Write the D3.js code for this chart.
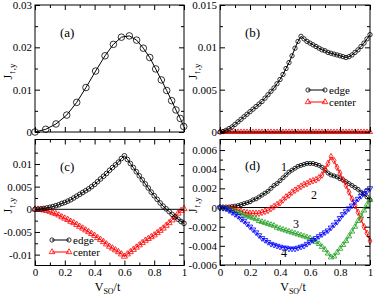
<!DOCTYPE html>
<html>
<head>
<meta charset="utf-8">
<script src="https://cdn.jsdelivr.net/npm/d3@7"></script>
<style>
  body { margin: 0; background: #fff; }
  svg { display: block; }
  text { font-family: "Liberation Serif", "Times New Roman", serif; }
</style>
</head>
<body>
<div id="chart"></div>
<script>
// V_SO/t grid used by panels (b)-(d)
var vso = [0, 0.02, 0.04, 0.06, 0.08, 0.10, 0.12, 0.14, 0.16, 0.18, 0.20, 0.22, 0.24, 0.26, 0.28, 0.30,
    0.32, 0.34, 0.36, 0.38, 0.40, 0.42, 0.44, 0.46, 0.48, 0.50, 0.52, 0.54, 0.56, 0.58, 0.60, 0.62, 0.64,
    0.66, 0.68, 0.70, 0.72, 0.74, 0.76, 0.78, 0.80, 0.82, 0.84, 0.86, 0.88, 0.90, 0.92, 0.94, 0.96, 0.98, 1.00]

// panel (a)
var aX = [0, 0.072, 0.141, 0.213, 0.28, 0.342, 0.407, 0.47, 0.526, 0.58, 0.633, 0.682, 0.727, 0.77,
    0.81, 0.848, 0.884, 0.917, 0.946, 0.975, 0.998]
var aY = [0, 0.00064, 0.0019, 0.0040, 0.0070, 0.0105, 0.0144, 0.0180, 0.0207, 0.0224, 0.0227, 0.0217,
    0.0198, 0.0176, 0.0149, 0.0123, 0.0098, 0.0074, 0.0052, 0.0032, 0.0013]

// panel (b)
var bEdge = [0, 0.00005, 0.0002, 0.0004, 0.0006, 0.0009, 0.0012, 0.0015, 0.0018, 0.0021, 0.0024, 0.0027,
    0.0030, 0.0033, 0.0036, 0.0040, 0.0044, 0.0048, 0.0052, 0.0057, 0.0062, 0.0068, 0.0075, 0.0082, 0.0090,
    0.0099, 0.0107, 0.0113, 0.0110, 0.0107, 0.0105, 0.0103, 0.0101, 0.0099, 0.0097, 0.0096, 0.0094, 0.0093,
    0.0092, 0.0091, 0.0090, 0.0089, 0.0088, 0.0089, 0.0091, 0.0094, 0.0097, 0.0101, 0.0105, 0.0110, 0.0115]
var bCenter = [0, 0, 0, 0, 0, 0, 0, 0, 0, 0, 0, 0, 0, 0, 0, 0, 0, 0, 0, 0, 0, 0, 0, 0, 0, 0,
    0, 0, 0, 0, 0, 0, 0, 0, 0, 0, 0, 0, 0, 0, 0, 0, 0, 0, 0, 0, 0, 0, 0, 0, 0]

// panel (c)
var cEdge = [0, 0.00002, 0.00008, 0.00018, 0.0003, 0.00045, 0.0006, 0.0008, 0.001, 0.0013, 0.0015, 0.0018,
    0.0021, 0.0025, 0.0029, 0.0033, 0.0037, 0.0041, 0.0045, 0.0050, 0.0055, 0.0061, 0.0067, 0.0073, 0.0079,
    0.0086, 0.0092, 0.0098, 0.0104, 0.0112, 0.0118, 0.0110, 0.0101, 0.0092, 0.0083, 0.0074, 0.0065, 0.0056,
    0.0047, 0.0038, 0.0030, 0.0022, 0.0014, 0.0007, 0.0001, -0.0005, -0.0011, -0.0017, -0.0022, -0.0027, -0.0031]
var cCenter = [0, -0.00002, -0.00008, -0.0002, -0.0003, -0.0005, -0.0008, -0.001, -0.0013, -0.0017, -0.002,
    -0.0023, -0.0027, -0.003, -0.0034, -0.0038, -0.0042, -0.0046, -0.005, -0.0054, -0.0058, -0.0063, -0.0067,
    -0.0072, -0.0077, -0.0082, -0.0086, -0.009, -0.0094, -0.0099, -0.0104, -0.0099, -0.0094, -0.0089, -0.0084,
    -0.0079, -0.0074, -0.0069, -0.0065, -0.0061, -0.0057, -0.0052, -0.0047, -0.0042, -0.0036, -0.003, -0.0024,
    -0.0017, -0.0009, -0.0003, 0.0001]

// panel (d)
var d1 = [0, 0.00001, 0.00003, 0.00006, 0.0001, 0.00015, 0.0002, 0.0003, 0.0004, 0.0005, 0.0006, 0.0008,
    0.0009, 0.0011, 0.0013, 0.0015, 0.0017, 0.0020, 0.0023, 0.0025, 0.0028, 0.0031, 0.0034, 0.0037, 0.0039,
    0.0041, 0.0043, 0.0044, 0.0045, 0.0046, 0.0046, 0.0046, 0.0045, 0.0044, 0.0042, 0.0039, 0.0036, 0.0034,
    0.0033, 0.0032, 0.0030, 0.0029, 0.0027, 0.0025, 0.0023, 0.0021, 0.0019, 0.0016, 0.0014, 0.0011, 0.0008]
var d2 = [0, -0.00002, -0.00005, -0.0001, -0.00015, -0.0002, -0.0003, -0.0004, -0.0005, -0.00055, -0.0006,
    -0.0006, -0.0006, -0.0006, -0.0005, -0.0004, -0.0003, -0.0001, 0.0001, 0.0003, 0.0005, 0.0008, 0.0011,
    0.0013, 0.0016, 0.0018, 0.0020, 0.0022, 0.0024, 0.0025, 0.0027, 0.0028, 0.0029, 0.0031, 0.0034, 0.0040,
    0.0046, 0.0053, 0.0049, 0.0042, 0.0036, 0.0029, 0.0023, 0.0016, 0.0009, 0.0002, -0.0005, -0.0012, -0.0020,
    -0.0027, -0.0035]
var d3s = [0, -0.00005, -0.0001, -0.0002, -0.0003, -0.0004, -0.0005, -0.0006, -0.0008, -0.0009, -0.001,
    -0.0011, -0.0012, -0.0014, -0.0015, -0.0016, -0.0017, -0.0018, -0.0019, -0.0021, -0.0022, -0.0023, -0.0024,
    -0.0025, -0.0026, -0.0027, -0.0028, -0.0029, -0.003, -0.0031, -0.0032, -0.0034, -0.0036, -0.0038, -0.0041,
    -0.0044, -0.0048, -0.0052, -0.0051, -0.0047, -0.0043, -0.0039, -0.0035, -0.0030, -0.0025, -0.0020, -0.0014,
    -0.0009, -0.0003, 0.0003, 0.0008]
var d4 = [0, -0.00005, -0.0001, -0.0003, -0.0005, -0.0007, -0.0009, -0.0012, -0.0014, -0.0017, -0.002, -0.0023,
    -0.0026, -0.0029, -0.0032, -0.0034, -0.0036, -0.0038, -0.0039, -0.0040, -0.0041, -0.0042, -0.0042, -0.0043,
    -0.0043, -0.0043, -0.0042, -0.0041, -0.0040, -0.0038, -0.0036, -0.0034, -0.0032, -0.0030, -0.0028, -0.0026,
    -0.0024, -0.0021, -0.0018, -0.0015, -0.0011, -0.0007, -0.0004, -0.0001, 0.0002, 0.0006, 0.0009, 0.0012,
    0.0015, 0.0017, 0.0020]

// ticks
var xMajor = [0, 0.2, 0.4, 0.6, 0.8, 1]
var xMinor = [0.1, 0.3, 0.5, 0.7, 0.9]
var aTicks = [0, 0.01, 0.02, 0.03], aMinor = [0.005, 0.015, 0.025]
var bTicks = [0, 0.005, 0.01, 0.015], bMinor = [0.0025, 0.0075, 0.0125]
var cTicks = [-0.01, -0.005, 0, 0.005, 0.01], cMinor = [-0.0075, -0.0025, 0.0025, 0.0075, 0.0125]
var dTicks = [-0.006, -0.004, -0.002, 0, 0.002, 0.004, 0.006], dMinor = [-0.005, -0.003, -0.001, 0.001, 0.003, 0.005]

var green = "#22a022"

var svg = d3.select("#chart").append("svg")
    .attr("width", 374)
    .attr("height", 297)

function drawPanel(p) {
    var x = d3.scaleLinear().domain([0, 1]).range([p.left, p.right])
    var y = d3.scaleLinear().domain(p.yDomain).range([p.bottom, p.top])
    var g = svg.append("g")

    if (p.zero) {
        g.append("line")
            .attr("x1", p.left).attr("x2", p.right)
            .attr("y1", y(0)).attr("y2", y(0))
            .attr("stroke", "black").attr("stroke-width", 1)
    }

    p.series.forEach(function (s) {
        var pts = s.y.map(function (v, i) { return [s.x[i], v] })
        g.append("path")
            .datum(pts)
            .attr("fill", "none")
            .attr("stroke", s.color)
            .attr("stroke-width", 1)
            .attr("d", d3.line().x(d => x(d[0])).y(d => y(d[1])))
        g.append("g").selectAll("path")
            .data(pts)
            .enter()
            .append("path")
            .attr("d", d3.symbol().type(s.shape).size(s.size))
            .attr("transform", d => "translate(" + x(d[0]) + "," + y(d[1]) + ")" + (s.flip ? " rotate(180)" : ""))
            .attr("fill", "none")
            .attr("stroke", s.color)
            .attr("stroke-width", 0.8)
    })

    // axes, ticks pointing inward on all four sides
    function styleAxis(sel) {
        sel.select(".domain").remove()
        sel.selectAll("text").attr("font-size", "11px").attr("font-family", "Liberation Serif, serif").attr("fill", "black")
    }
    var fmt = d => String(d)
    g.append("g").attr("transform", "translate(0," + p.bottom + ")")
        .call(d3.axisBottom(x).tickValues(xMajor).tickSize(-5).tickPadding(3).tickFormat(p.xLabels ? fmt : ""))
        .call(styleAxis)
    g.append("g").attr("transform", "translate(0," + p.bottom + ")")
        .call(d3.axisBottom(x).tickValues(xMinor).tickSize(-3).tickFormat(""))
        .call(styleAxis)
    g.append("g").attr("transform", "translate(0," + p.top + ")")
        .call(d3.axisTop(x).tickValues(xMajor).tickSize(-5).tickFormat(""))
        .call(styleAxis)
    g.append("g").attr("transform", "translate(0," + p.top + ")")
        .call(d3.axisTop(x).tickValues(xMinor).tickSize(-3).tickFormat(""))
        .call(styleAxis)
    g.append("g").attr("transform", "translate(" + p.left + ",0)")
        .call(d3.axisLeft(y).tickValues(p.yTicks).tickSize(-5).tickPadding(3).tickFormat(fmt))
        .call(styleAxis)
    g.append("g").attr("transform", "translate(" + p.left + ",0)")
        .call(d3.axisLeft(y).tickValues(p.yMinor).tickSize(-3).tickFormat(""))
        .call(styleAxis)
    g.append("g").attr("transform", "translate(" + p.right + ",0)")
        .call(d3.axisRight(y).tickValues(p.yTicks).tickSize(-5).tickFormat(""))
        .call(styleAxis)
    g.append("g").attr("transform", "translate(" + p.right + ",0)")
        .call(d3.axisRight(y).tickValues(p.yMinor).tickSize(-3).tickFormat(""))
        .call(styleAxis)

    g.append("rect")
        .attr("x", p.left).attr("y", p.top)
        .attr("width", p.right - p.left).attr("height", p.bottom - p.top)
        .attr("fill", "none").attr("stroke", "black").attr("stroke-width", 1)

    // y label J_{↑,y}
    var yl = g.append("text")
        .attr("transform", "translate(" + (p.left - 23) + "," + ((p.top + p.bottom) / 2 + 3) + ") rotate(-90)")
        .attr("text-anchor", "middle")
        .attr("font-size", "12px")
    yl.append("tspan").text("J")
    yl.append("tspan").attr("font-size", "9px").attr("dy", 3).text("↑,y")

    if (p.xLabels) {
        var xl = g.append("text")
            .attr("x", (p.left + p.right) / 2 - 2)
            .attr("y", 291)
            .attr("text-anchor", "middle")
            .attr("font-size", "12px")
        xl.append("tspan").text("V")
        xl.append("tspan").attr("font-size", "8px").attr("dy", 3).text("SO")
        xl.append("tspan").attr("dy", -3).text("/t")
    }

    g.append("text")
        .attr("x", p.left + p.tag[0]).attr("y", p.tag[1])
        .attr("font-size", "13px")
        .text(p.tagText)

    return {x: x, y: y, g: g}
}

function legend(g, lx, ly, rows) {
    rows.forEach(function (r, i) {
        var yy = ly + i * 12
        g.append("line").attr("x1", lx).attr("x2", lx + 17).attr("y1", yy).attr("y2", yy)
            .attr("stroke", r.color).attr("stroke-width", 1)
        ;[lx, lx + 17].forEach(function (px) {
            g.append("path")
                .attr("d", d3.symbol().type(r.shape).size(14))
                .attr("transform", "translate(" + px + "," + yy + ")")
                .attr("fill", "none").attr("stroke", r.color).attr("stroke-width", 0.8)
        })
        g.append("text").attr("x", lx + 21).attr("y", yy + 3.5)
            .attr("font-size", "11px").text(r.label)
    })
}

// (a)
drawPanel({
    left: 35, right: 184, top: 5, bottom: 132, yDomain: [0, 0.03],
    yTicks: aTicks, yMinor: aMinor, xLabels: false, tag: [25, 37], tagText: "(a)",
    series: [{x: aX, y: aY, color: "black", shape: d3.symbolCircle, size: 34}]
})

// (b)
var pb = drawPanel({
    left: 220, right: 370, top: 5, bottom: 132, yDomain: [0, 0.015],
    yTicks: bTicks, yMinor: bMinor, xLabels: false, tag: [25, 37], tagText: "(b)",
    series: [
        {x: vso, y: bCenter, color: "red", shape: d3.symbolTriangle, size: 12},
        {x: vso, y: bEdge, color: "black", shape: d3.symbolCircle, size: 15}
    ]
})
legend(pb.g, 308, 90, [
    {label: "edge", color: "black", shape: d3.symbolCircle},
    {label: "center", color: "red", shape: d3.symbolTriangle}
])

// (c)
var pc = drawPanel({
    left: 35, right: 184, top: 139.5, bottom: 265.5, yDomain: [-0.0124, 0.0154], zero: true,
    yTicks: cTicks, yMinor: cMinor, xLabels: true, tag: [25, 171], tagText: "(c)",
    series: [
        {x: vso, y: cCenter, color: "red", shape: d3.symbolTriangle, size: 16},
        {x: vso, y: cEdge, color: "black", shape: d3.symbolCircle, size: 17}
    ]
})
legend(pc.g, 52, 240, [
    {label: "edge", color: "black", shape: d3.symbolCircle},
    {label: "center", color: "red", shape: d3.symbolTriangle}
])

// (d)
var pd = drawPanel({
    left: 220, right: 370, top: 139.5, bottom: 265, yDomain: [-0.006, 0.0071], zero: true,
    yTicks: dTicks, yMinor: dMinor, xLabels: true, tag: [25, 170], tagText: "(d)",
    series: [
        {x: vso, y: d1, color: "black", shape: d3.symbolCircle, size: 13},
        {x: vso, y: d2, color: "red", shape: d3.symbolDiamond, size: 13},
        {x: vso, y: d3s, color: green, shape: d3.symbolTriangle, size: 13},
        {x: vso, y: d4, color: "blue", shape: d3.symbolTriangle, size: 13, flip: true}
    ]
})
var curveLabels = [["1", 284, 171], ["2", 314, 199], ["3", 296, 228], ["4", 284, 257]]
curveLabels.forEach(function (c) {
    pd.g.append("text").attr("x", c[1]).attr("y", c[2])
        .attr("text-anchor", "middle").attr("font-size", "12px").text(c[0])
})
</script>
</body>
</html>
